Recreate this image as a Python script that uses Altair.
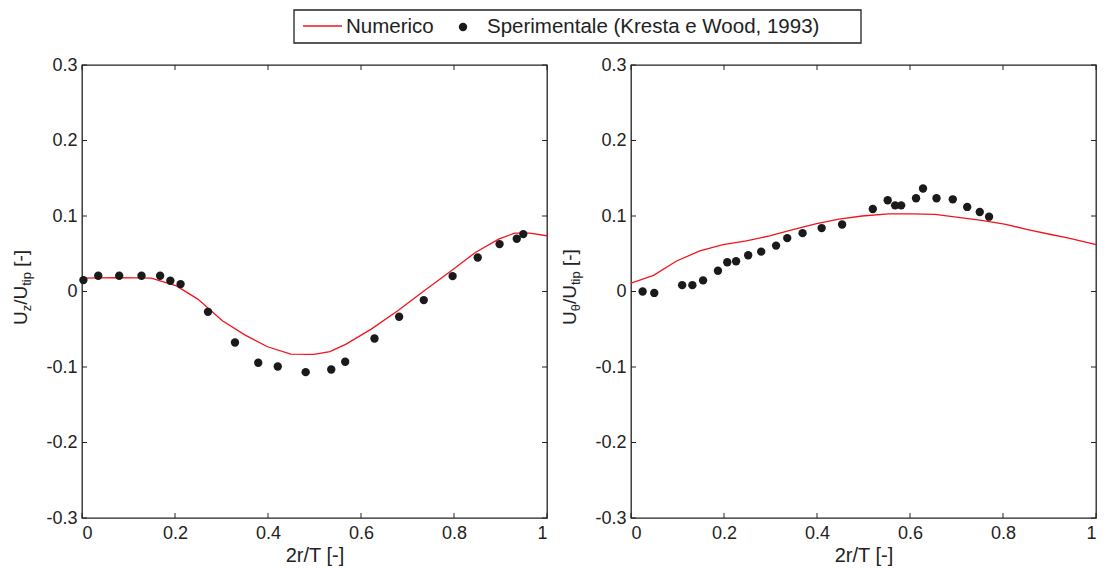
import altair as alt
import pandas as pd

# ---------------- data ----------------
# Left panel: axial velocity U_z/U_tip
x_num_z = [0.0, 0.075, 0.149, 0.203, 0.249, 0.302, 0.350, 0.399, 0.449, 0.499,
           0.533, 0.568, 0.622, 0.679, 0.736, 0.792, 0.846, 0.896, 0.931, 0.963, 1.0]
y_num_z = [0.0177, 0.0185, 0.0177, 0.0075, -0.0101, -0.0388, -0.0574, -0.0732, -0.0829, -0.0834,
           -0.0795, -0.0697, -0.0498, -0.0256, 0.0009, 0.0265, 0.0517, 0.0694, 0.0774, 0.0774, 0.0738]
x_exp_z = [0.003, 0.035, 0.080, 0.128, 0.168, 0.190, 0.212, 0.271, 0.329, 0.379, 0.421,
           0.481, 0.536, 0.566, 0.629, 0.682, 0.735, 0.797, 0.851, 0.898, 0.935, 0.949]
y_exp_z = [0.0151, 0.0208, 0.0208, 0.0208, 0.0208, 0.0142, 0.0098, -0.0269, -0.0675, -0.0944, -0.0993,
           -0.1068, -0.1033, -0.0931, -0.0623, -0.0335, -0.0114, 0.0204, 0.0450, 0.0628, 0.0698, 0.0760]

# Right panel: tangential velocity U_theta/U_tip
x_num_t = [0.0, 0.0485, 0.098, 0.148, 0.198, 0.248, 0.298, 0.348, 0.397, 0.447, 0.497,
           0.554, 0.604, 0.654, 0.704, 0.754, 0.803, 0.853, 0.903, 0.939, 0.996, 1.0]
y_num_t = [0.0111, 0.0213, 0.0404, 0.0537, 0.0621, 0.0671, 0.0737, 0.0821, 0.0897, 0.0960, 0.1000,
           0.1027, 0.1027, 0.1021, 0.0981, 0.0941, 0.0893, 0.0821, 0.0755, 0.0711, 0.0627, 0.0620]
x_exp_t = [0.025, 0.050, 0.110, 0.132, 0.155, 0.187, 0.207, 0.226, 0.252, 0.280, 0.312, 0.336, 0.369,
           0.410, 0.454, 0.520, 0.552, 0.568, 0.581, 0.613, 0.628, 0.657, 0.692, 0.723, 0.750, 0.770]
y_exp_t = [0.0, -0.0019, 0.0084, 0.0084, 0.0147, 0.0275, 0.0387, 0.0400, 0.0480, 0.0528, 0.0608, 0.0707, 0.0773,
           0.0840, 0.0888, 0.1093, 0.1208, 0.1141, 0.1141, 0.1235, 0.1364, 0.1235, 0.1221, 0.1120, 0.1053, 0.0991]

x_ticks = [0, 0.2, 0.4, 0.6, 0.8, 1.0]
y_ticks = [-0.3, -0.2, -0.1, 0, 0.1, 0.2, 0.3]

series_names = ["Numerico", "Sperimentale (Kresta e Wood, 1993)"]
x_title = "2r/T [-]"

# ---------------- style ----------------
W, H = 465, 453
FONT = "Liberation Sans"
RED = "#f0141e"
DOT = "#1a1a1a"
INK = "#222222"
TICK_FS = 18
XTITLE_FS = 20
TITLE_FS = 19
SUB_FS = 13
LEG_FS = 20.5
TITLE_X = -55

label_expr = "datum.value < 0 ? '-' + format(-datum.value, '~g') : format(datum.value, '~g')"

one_row = pd.DataFrame({"a": [0]})


def ytitle_layers(sub):
    # segments of U_sub/U_tip [-] drawn as rotated text
    usub_w = 13.7
    sub_w = 6.5 if sub == "z" else 7.2
    segs = [
        ("U", TITLE_FS, 0.0, 0),
        (sub, SUB_FS, usub_w, 4),
        ("/U", TITLE_FS, usub_w + sub_w, 0),
        ("tip", SUB_FS, usub_w + sub_w + 19.0, 4),
        ("[-]", TITLE_FS, usub_w + sub_w + 19.0 + 13.7 + 5.3, 0),
    ]
    layers = []
    for txt, fs, dx, dy in segs:
        layers.append(
            alt.Chart(one_row).mark_text(
                angle=270, align="left", baseline="alphabetic",
                font=FONT, fontSize=fs, color=INK, dx=dx, dy=dy,
            ).encode(x=alt.value(TITLE_X), y=alt.value(260), text=alt.value(txt))
        )
    return layers


def panel(xn, yn, xe, ye, sub):
    xs = alt.Scale(domain=[0, 1], nice=False, zero=False)
    ys = alt.Scale(domain=[-0.3, 0.3], nice=False, zero=False)
    xax = alt.Axis(values=x_ticks, labelExpr=label_expr, ticks=False, domain=False, grid=False,
                   labelFont=FONT, labelFontSize=TICK_FS, labelColor=INK, labelPadding=6,
                   title=x_title, titleFont=FONT, titleFontSize=XTITLE_FS, titleFontWeight="normal",
                   titleColor=INK, titlePadding=3)
    yax = alt.Axis(values=y_ticks, labelExpr=label_expr, ticks=False, domain=False, grid=False,
                   labelFont=FONT, labelFontSize=TICK_FS, labelColor=INK, labelPadding=5, title="")

    X = alt.X("x:Q", scale=xs, axis=xax)
    Y = alt.Y("y:Q", scale=ys, axis=yax)

    line = alt.Chart(pd.DataFrame({"x": xn, "y": yn})).mark_line(
        color=RED, strokeWidth=1.3, clip=True
    ).encode(x=X, y=Y)

    pts = alt.Chart(pd.DataFrame({"x": xe, "y": ye})).mark_circle(
        color=DOT, size=70, opacity=1
    ).encode(x=X, y=Y)

    ydf = pd.DataFrame({"y": y_ticks})
    xdf = pd.DataFrame({"x": x_ticks})
    tl = alt.Chart(ydf).mark_rule(color=INK, strokeWidth=1).encode(
        y=Y, x=alt.value(0), x2=alt.value(5))
    tr = alt.Chart(ydf).mark_rule(color=INK, strokeWidth=1).encode(
        y=Y, x=alt.value(W - 5), x2=alt.value(W))
    tb = alt.Chart(xdf).mark_rule(color=INK, strokeWidth=1).encode(
        x=X, y=alt.value(H - 5), y2=alt.value(H))
    tt = alt.Chart(xdf).mark_rule(color=INK, strokeWidth=1).encode(
        x=X, y=alt.value(0), y2=alt.value(5))

    return alt.layer(line, pts, tl, tr, tb, tt, *ytitle_layers(sub)).properties(
        width=W, height=H,
        view=alt.ViewBackground(stroke=INK, strokeWidth=1.3, fill="white"),
    )


left = panel(x_num_z, y_num_z, x_exp_z, y_exp_z, "z")
right = panel(x_num_t, y_num_t, x_exp_t, y_exp_t, "θ")

# ---------------- legend (drawn as a small chart on top) ----------------
# coordinates are relative to the left panel's plot origin
LX0 = 212
box = alt.Chart(one_row).mark_rect(fill="white", stroke=INK, strokeWidth=1.3).encode(
    x=alt.value(LX0), x2=alt.value(LX0 + 567), y=alt.value(0), y2=alt.value(33))
lg_line = alt.Chart(one_row).mark_rule(color=RED, strokeWidth=1.3).encode(
    x=alt.value(LX0 + 9), x2=alt.value(LX0 + 48), y=alt.value(16))
lg_t1 = alt.Chart(one_row).mark_text(align="left", baseline="middle", font=FONT, fontSize=LEG_FS, color=INK).encode(
    x=alt.value(LX0 + 52), y=alt.value(17), text=alt.value(series_names[0]))
lg_dot = alt.Chart(one_row).mark_circle(color=DOT, size=70, opacity=1).encode(
    x=alt.value(LX0 + 169), y=alt.value(17))
lg_t2 = alt.Chart(one_row).mark_text(align="left", baseline="middle", font=FONT, fontSize=LEG_FS, color=INK).encode(
    x=alt.value(LX0 + 193), y=alt.value(17), text=alt.value(series_names[1]))

legend = alt.layer(box, lg_line, lg_t1, lg_dot, lg_t2).properties(
    width=800, height=33, view=alt.ViewBackground(stroke="transparent", fill="white"))

chart = alt.vconcat(
    legend,
    alt.hconcat(left, right, spacing=11),
    spacing=10,
).properties(
    padding={"left": 3, "top": 0, "right": 0, "bottom": 0},
    background="white",
)

chart.save("out.html", embed_options={"renderer": "svg", "actions": False})
